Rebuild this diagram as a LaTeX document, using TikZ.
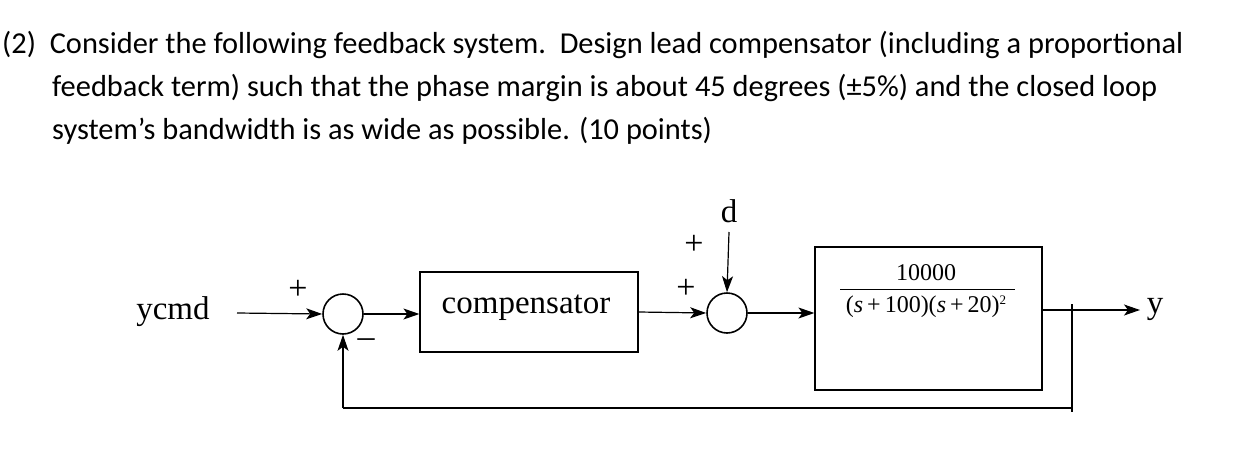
\documentclass[tikz,border=0pt]{standalone}
\usepackage{fontspec}
\setmainfont{Liberation Serif}
\newfontfamily\txtfont{Carlito}
\usetikzlibrary{arrows.meta}
\begin{document}
\begin{tikzpicture}[x=1pt,y=-1pt,
  wire/.style={line width=1.2pt},
  arr/.style={wire,-{Stealth[length=16pt,width=11pt,inset=4pt]}},
  blk/.style={draw,line width=1.2pt,inner sep=0pt},
  sum/.style={draw,circle,line width=1.6pt,minimum size=40pt,inner sep=0pt},
  lab/.style={font=\fontsize{33}{36}\selectfont},
  pm/.style={font=\fontsize{34}{36}\selectfont,inner sep=0pt}]
\useasboundingbox (0,0) rectangle (1239,458);
\node[anchor=west,font=\txtfont\fontsize{30.4}{43}\selectfont,align=left,inner sep=0pt] (q) at (2,88)
 {(2)\ \ Consider the following feedback system.\ \ Design lead compensator (including a proportional\\
 \hspace*{50pt}feedback term) such that the phase margin is about 45 degrees (±5\%) and the closed loop\\
 \hspace*{50pt}system’s bandwidth is as wide as possible. (10 points)};
\node[lab] (ycmd) at (173,312) {ycmd};
\node[sum] (s1) at (343,314) {};
\node[blk,minimum width=218pt,minimum height=80pt] (comp) at (529,312) {};
\node[lab] at (526,308) {compensator};
\node[sum] (s2) at (727,313) {};
\node[blk,minimum width=227pt,minimum height=143pt] (plant) at (928.5,318.5) {};
\node[font=\fontsize{24}{26}\selectfont] (num) at (926,273) {10000};
\node[font=\fontsize{24}{26}\selectfont] (den) at (926,307) {(\textit{s}\,+\,100)(\textit{s}\,+\,20)\raisebox{8pt}{\fontsize{13}{14}\selectfont 2}};
\draw[line width=0.8pt] (840,289) -- (1015,289);
\node[lab] (y) at (1155,309) {y};
\node[lab] (d) at (729,211) {d};
\coordinate (a) at (237,313);
\coordinate (dtop) at (729,232);
\coordinate (br) at (1072,310);
\coordinate (bb) at (1072,408);
\coordinate (bl) at (343,408);
\coordinate (yend) at (1140,310);
\draw[arr] (a) -- (s1.west);
\draw[arr] (s1.east) -- (comp.west |- s1.east);
\draw[arr] (comp.east) -- (s2.west);
\draw[arr] (dtop) -- (s2.north);
\draw[arr] (s2.east) -- (plant.west |- s2.east);
\draw[arr] (plant.east |- br) -- (yend);
\draw[line width=2pt] (1072,304) -- (1072,412);
\draw[wire] (bb) -- (bl);
\draw[arr] (bl) -- (s1.south);
\node[pm] at (298,290) {+};
\node[pm] at (366,343) {–};
\node[pm] at (686,289) {+};
\node[pm] at (694,245) {+};
\end{tikzpicture}
\end{document}
